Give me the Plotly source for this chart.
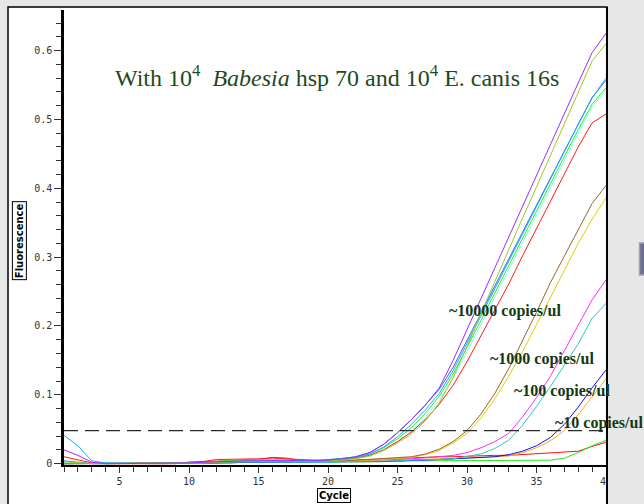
import plotly.graph_objects as go

# Amplification curves, fluorescence per cycle (cycles 1..40)
cycles = list(range(1, 41))

purple_10000 = [0.020, 0.012, 0.002, 0.000, 0.000, 0.000, 0.000, 0.000, 0.000, 0.001,
                0.002, 0.003, 0.004, 0.004, 0.004, 0.005, 0.005, 0.004, 0.004, 0.005,
                0.007, 0.010, 0.016, 0.028, 0.045, 0.064, 0.085, 0.110, 0.150, 0.195,
                0.240, 0.285, 0.329, 0.374, 0.418, 0.463, 0.508, 0.553, 0.597, 0.625]
yellowgreen_10000 = [0.003, 0.001, 0.000, 0.000, 0.000, 0.000, 0.000, 0.000, 0.000, 0.000,
                     0.001, 0.002, 0.003, 0.003, 0.003, 0.004, 0.004, 0.003, 0.003, 0.004,
                     0.005, 0.007, 0.011, 0.019, 0.030, 0.043, 0.062, 0.088, 0.125, 0.170,
                     0.218, 0.265, 0.311, 0.357, 0.402, 0.448, 0.494, 0.540, 0.585, 0.610]
royalblue_10000 = [0.004, 0.002, 0.000, 0.000, 0.000, 0.000, 0.000, 0.000, 0.000, 0.000,
                   0.001, 0.001, 0.002, 0.002, 0.002, 0.002, 0.002, 0.002, 0.003, 0.005,
                   0.007, 0.010, 0.016, 0.028, 0.045, 0.064, 0.085, 0.108, 0.140, 0.178,
                   0.218, 0.258, 0.297, 0.336, 0.376, 0.415, 0.455, 0.494, 0.532, 0.557]
skyblue_10000 = [0.041, 0.026, 0.004, 0.001, 0.001, 0.000, 0.000, 0.000, 0.000, 0.000,
                 0.001, 0.002, 0.003, 0.003, 0.004, 0.004, 0.004, 0.004, 0.005, 0.006,
                 0.007, 0.009, 0.014, 0.024, 0.039, 0.057, 0.078, 0.102, 0.135, 0.174,
                 0.214, 0.254, 0.294, 0.334, 0.374, 0.414, 0.454, 0.493, 0.531, 0.560]
green_10000 = [0.001, 0.000, 0.000, 0.000, 0.000, 0.000, 0.000, 0.000, 0.000, 0.000,
               0.001, 0.003, 0.005, 0.004, 0.004, 0.004, 0.004, 0.003, 0.003, 0.004,
               0.006, 0.009, 0.014, 0.023, 0.036, 0.052, 0.073, 0.098, 0.130, 0.168,
               0.208, 0.248, 0.288, 0.328, 0.367, 0.407, 0.446, 0.485, 0.522, 0.546]
lightcyan_10000 = [0.000, 0.000, 0.000, 0.000, 0.000, 0.000, 0.000, 0.000, 0.000, 0.000,
                   0.002, 0.003, 0.003, 0.004, 0.004, 0.003, 0.003, 0.003, 0.004, 0.005,
                   0.006, 0.008, 0.012, 0.020, 0.032, 0.047, 0.067, 0.092, 0.124, 0.162,
                   0.202, 0.242, 0.282, 0.322, 0.362, 0.402, 0.441, 0.480, 0.518, 0.543]
red_10000 = [0.010, 0.005, 0.001, 0.000, 0.000, 0.000, 0.000, 0.000, 0.000, 0.002,
             0.003, 0.006, 0.006, 0.006, 0.007, 0.008, 0.007, 0.005, 0.004, 0.004,
             0.005, 0.008, 0.012, 0.020, 0.032, 0.046, 0.064, 0.086, 0.114, 0.148,
             0.185, 0.223, 0.261, 0.302, 0.341, 0.380, 0.420, 0.460, 0.495, 0.508]
brown_1000 = [0.000, 0.000, 0.000, 0.000, 0.000, 0.000, 0.000, 0.000, 0.000, 0.000,
              0.001, 0.002, 0.003, 0.003, 0.003, 0.003, 0.003, 0.003, 0.003, 0.004,
              0.004, 0.005, 0.006, 0.007, 0.008, 0.010, 0.014, 0.021, 0.032, 0.048,
              0.072, 0.102, 0.138, 0.178, 0.220, 0.263, 0.302, 0.340, 0.378, 0.404]
gold_1000 = [0.000, 0.000, 0.000, 0.000, 0.000, 0.000, 0.000, 0.000, 0.000, 0.000,
             0.001, 0.002, 0.003, 0.003, 0.004, 0.004, 0.005, 0.004, 0.003, 0.003,
             0.004, 0.004, 0.005, 0.006, 0.007, 0.009, 0.013, 0.019, 0.030, 0.044,
             0.066, 0.094, 0.127, 0.163, 0.202, 0.242, 0.282, 0.320, 0.355, 0.386]
magenta_100 = [0.000, 0.000, 0.000, 0.000, 0.000, 0.000, 0.000, 0.000, 0.000, 0.000,
               0.001, 0.002, 0.003, 0.003, 0.003, 0.003, 0.003, 0.003, 0.003, 0.004,
               0.004, 0.005, 0.005, 0.006, 0.006, 0.007, 0.008, 0.010, 0.012, 0.016,
               0.023, 0.032, 0.044, 0.068, 0.096, 0.127, 0.164, 0.201, 0.238, 0.267]
turquoise_100 = [0.000, 0.000, 0.000, 0.000, 0.000, 0.000, 0.000, 0.000, 0.000, 0.000,
                 0.001, 0.001, 0.002, 0.002, 0.002, 0.002, 0.002, 0.001, 0.001, 0.002,
                 0.003, 0.003, 0.004, 0.004, 0.004, 0.005, 0.005, 0.006, 0.007, 0.010,
                 0.014, 0.022, 0.034, 0.056, 0.083, 0.112, 0.143, 0.174, 0.211, 0.233]
blue_10 = [0.000, 0.000, 0.000, 0.000, 0.000, 0.000, 0.000, 0.000, 0.000, 0.000,
           0.001, 0.001, 0.001, 0.002, 0.002, 0.002, 0.002, 0.002, 0.002, 0.002,
           0.002, 0.002, 0.003, 0.003, 0.004, 0.004, 0.005, 0.006, 0.007, 0.008,
           0.009, 0.010, 0.013, 0.018, 0.026, 0.038, 0.057, 0.082, 0.110, 0.136]
orange_10 = [0.000, 0.000, 0.000, 0.000, 0.000, 0.000, 0.000, 0.000, 0.000, 0.000,
             0.001, 0.002, 0.004, 0.005, 0.006, 0.006, 0.005, 0.004, 0.003, 0.003,
             0.003, 0.004, 0.004, 0.005, 0.005, 0.006, 0.006, 0.007, 0.007, 0.008,
             0.009, 0.010, 0.011, 0.016, 0.023, 0.033, 0.048, 0.071, 0.097, 0.123]
green_late = [0.000, 0.000, 0.000, 0.000, 0.000, 0.000, 0.000, 0.000, 0.000, 0.001,
              0.002, 0.003, 0.003, 0.003, 0.002, 0.002, 0.002, 0.002, 0.002, 0.002,
              0.003, 0.003, 0.003, 0.003, 0.003, 0.004, 0.004, 0.004, 0.004, 0.004,
              0.004, 0.004, 0.004, 0.004, 0.004, 0.005, 0.008, 0.016, 0.026, 0.034]
red_late = [0.000, 0.000, 0.000, 0.000, 0.000, 0.000, 0.000, 0.000, 0.000, 0.002,
            0.003, 0.004, 0.004, 0.005, 0.006, 0.009, 0.008, 0.004, 0.003, 0.003,
            0.004, 0.005, 0.006, 0.006, 0.007, 0.008, 0.009, 0.010, 0.010, 0.011,
            0.011, 0.012, 0.012, 0.013, 0.014, 0.015, 0.016, 0.018, 0.025, 0.031]

threshold = 0.048

curves = [
    (lightcyan_10000, "#8afcf0"),
    (red_late, "#ff1010"),
    (green_late, "#20ee20"),
    (orange_10, "#ffa51f"),
    (blue_10, "#1010ff"),
    (turquoise_100, "#2cc8c8"),
    (magenta_100, "#ff2cff"),
    (gold_1000, "#e4cc00"),
    (brown_1000, "#99642e"),
    (red_10000, "#ff1a1a"),
    (green_10000, "#2aee2a"),
    (royalblue_10000, "#3c5cff"),
    (skyblue_10000, "#1aaaff"),
    (yellowgreen_10000, "#99cc22"),
    (purple_10000, "#9a2cff"),
]

y_tick_vals = [0, 0.1, 0.2, 0.3, 0.4, 0.5, 0.6]
y_tick_text = ["0", "0.1", "0.2", "0.3", "0.4", "0.5", "0.6"]
x_tick_vals = [5, 10, 15, 20, 25, 30, 35, 40]

title_text = "With 10<sup>4</sup>  <i>Babesia</i> hsp 70 and 10<sup>4</sup> E. canis 16s"
group_labels = ["~10000 copies/ul", "~1000 copies/ul", "~100 copies/ul", "~10 copies/ul"]

fig = go.Figure()

for vals, col in curves:
    fig.add_trace(go.Scatter(x=cycles, y=vals, mode="lines",
                             line=dict(color=col, width=1), showlegend=False,
                             hoverinfo="skip"))

fig.add_trace(go.Scatter(x=[cycles[0], cycles[-1]], y=[threshold, threshold], mode="lines",
                         line=dict(color="#2a2a2a", width=1.3, dash="14px,7px"),
                         showlegend=False, hoverinfo="skip"))

BG = "#e7e7e7"
GREEN_TXT = "#1d4a1d"

fig.update_layout(
    width=644, height=504,
    margin=dict(l=64, r=38, t=10, b=39, pad=0),
    paper_bgcolor=BG,
    plot_bgcolor="rgba(0,0,0,0)",
    showlegend=False,
    xaxis=dict(range=[1, 40], tickvals=x_tick_vals, ticks="outside", ticklen=6,
               tickwidth=1, tickcolor="#333", showline=True, linecolor="black",
               linewidth=1.5, showgrid=False, zeroline=False, automargin=False,
               tickfont=dict(family="DejaVu Sans Mono", size=10, color="#333"),
               minor=dict(dtick=1, tick0=1, ticks="outside", ticklen=5,
                          tickcolor="#333", showgrid=False)),
    yaxis=dict(range=[-0.002, 0.659], tickvals=y_tick_vals, ticktext=y_tick_text,
               ticks="outside", ticklen=7, tickwidth=1, tickcolor="#333",
               showline=True, linecolor="black", linewidth=2.5, showgrid=False,
               zeroline=False, automargin=False,
               tickfont=dict(family="DejaVu Sans Mono", size=10, color="#333"),
               minor=dict(dtick=0.02, tick0=0, ticks="outside", ticklen=5,
                          tickcolor="#333", showgrid=False)),
)

# white chart card behind the plot
fig.add_shape(type="rect", xref="paper", yref="paper", x0=-0.1033, x1=1.0018,
              y0=-0.2, y1=1.0066, fillcolor="white",
              line=dict(color="black", width=1.5), layer="below")
# clip area right of the card (hides the overflow of the last tick label)
fig.add_shape(type="rect", xref="paper", yref="paper", x0=1.0035, x1=1.08,
              y0=-0.2, y1=-0.006, fillcolor=BG, line=dict(width=0), layer="above")
fig.add_shape(type="line", xref="paper", yref="paper", x0=1.0018, x1=1.0018,
              y0=-0.2, y1=1.0066, line=dict(color="black", width=2), layer="above")
# small button at the right edge
fig.add_shape(type="rect", xref="paper", yref="paper", x0=1.0618, x1=1.085,
              y0=0.4176, y1=0.488, fillcolor="#6e6e8e",
              line=dict(color="#a0a0b8", width=1.5), layer="above")

fig.add_annotation(text=title_text, xref="paper", yref="paper", x=0.5037, y=0.855,
                   xanchor="center", yanchor="middle", showarrow=False,
                   font=dict(family="Liberation Serif", size=24, color=GREEN_TXT))

label_pos = [(0.707, 0.3385), (0.783, 0.233), (0.826, 0.163), (0.902, 0.0923)]
for txt, (lx, ly) in zip(group_labels, label_pos):
    fig.add_annotation(text="<b>" + txt + "</b>", xref="paper", yref="paper", x=lx, y=ly,
                       xanchor="left", yanchor="middle", showarrow=False,
                       font=dict(family="Liberation Serif", size=16, color="#143814"))

fig.add_annotation(text="<b>Fluorescence</b>", xref="paper", yref="paper", x=-0.083, y=0.492,
                   textangle=-90, xanchor="center", yanchor="middle", showarrow=False,
                   bordercolor="black", borderwidth=1, borderpad=1, bgcolor="white",
                   font=dict(family="DejaVu Sans", size=10, color="black"))
fig.add_annotation(text="<b>Cycle</b>", xref="paper", yref="paper", x=0.498, y=-0.066,
                   xanchor="center", yanchor="middle", showarrow=False,
                   bordercolor="black", borderwidth=1, borderpad=1, bgcolor="white",
                   font=dict(family="DejaVu Sans", size=10, color="black"))

fig.write_html("out.html")
